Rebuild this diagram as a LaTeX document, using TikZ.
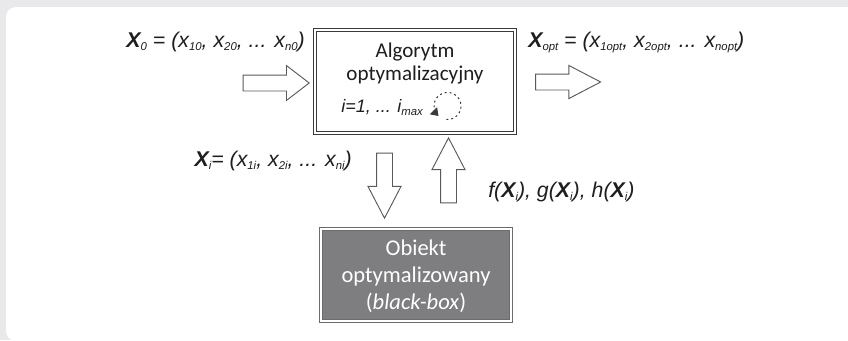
\documentclass[tikz,border=0pt]{standalone}
\usepackage{fontspec}
\setmainfont{Carlito}
\newfontfamily\lblfont{Liberation Sans}
\usetikzlibrary{positioning}
\usetikzlibrary{shapes.arrows}
\usetikzlibrary{arrows.meta}

\definecolor{panelgray}{HTML}{E9E9EB}
\definecolor{framegray}{HTML}{3A3A3A}
\definecolor{arrowgray}{HTML}{5A5A5A}
\definecolor{boxfill}{HTML}{7E7E80}
\definecolor{inkgray}{HTML}{1E1E1E}

% small, lowered index as in the figure
\newcommand{\idx}[1]{\raisebox{-0.35ex}{\fontsize{8.5}{9}\selectfont #1}}

\tikzset{
  algobox/.style={draw=framegray, double=white, double distance=1.5pt, line width=0.7pt,
    minimum width=150pt, minimum height=77.25pt, inner sep=0pt},
  objbox/.style={draw=boxfill!85!black, double=white, double distance=1.2pt, line width=0.75pt,
    fill=boxfill, minimum width=142.5pt, minimum height=69pt, inner sep=0pt},
  blockarrow/.style={single arrow, draw=arrowgray, fill=white, line width=0.7pt,
    inner xsep=0pt, inner ysep=5.625pt, single arrow head extend=6.4pt,
    single arrow tip angle=55, minimum height=48.75pt},
  mathlbl/.style={font=\lblfont\itshape\fontsize{16}{19}\selectfont, text=inkgray, inner sep=0pt},
  boxtext/.style={inner sep=0pt, text width=140pt, align=center},
}

\begin{document}
\begin{tikzpicture}[x=0.75pt, y=-0.75pt]
  \useasboundingbox (0,0) rectangle (848,340);
  % panel
  \fill[panelgray] (0,0) rectangle (848,340);
  \fill[white, rounded corners=7.5pt] (6,7) rectangle (870,341);

  % algorithm box
  \node[algobox] (algo) at (415,81.5) {};
  \node[boxtext, anchor=north, text=inkgray, font=\fontsize{15.8}{17.6}\selectfont]
    (algtitle) at ([yshift=-9.5pt]algo.north) {Algorytm\\optymalizacyjny};
  \node[mathlbl, font=\lblfont\itshape\fontsize{13.5}{16}\selectfont, anchor=base west] (iter) at (341,112)
    {i=1, ... i\idx{max}};
  \coordinate (loopc) at (447.5,106);
  \draw[framegray, line width=0.75pt, dash pattern=on 1.5pt off 2.2pt,
    -{Triangle[width=7.5pt,length=5.5pt]}]
    plot[domain=95:-228, samples=40] ([shift={({13.5*cos(\x)},{13.5*sin(\x)})}]loopc);

  % object box
  \node[objbox] (obj) at (416,275) {};
  \node[boxtext, anchor=north, text=white, font=\fontsize{16.9}{20.25}\selectfont]
    (objtitle) at ([yshift=-8pt]obj.north) {Obiekt\\optymalizowany\\(\textit{black-box})};

  % block arrows
  \node[blockarrow, single arrow head extend=7.1pt, single arrow tip angle=75,
    minimum height=49.5pt] (arrIn) at (271,83) {};
  \node[blockarrow] (arrOut) at (560.5,82) {};
  \node[blockarrow, rotate=-90] (arrDown) at (384.5,178) {};
  \node[blockarrow, rotate=90] (arrUp) at (448.5,178) {};

  % labels
  \node[mathlbl, anchor=base east] (xzero) at (305,47)
    {\textbf{X}\idx{0} = (x\idx{10}, x\idx{20}, ... x\idx{n0})};
  \node[mathlbl, anchor=base west] (xopt) at (528,47)
    {\textbf{X}\idx{opt} = (x\idx{1opt}, x\idx{2opt}, ... x\idx{nopt})};
  \node[mathlbl, anchor=base east] (xi) at (352,166)
    {\textbf{X}\idx{i}= (x\idx{1i}, x\idx{2i}, ... x\idx{ni})};
  \node[mathlbl, anchor=base west] (fx) at (488,197)
    {f(\textbf{X}\idx{i}), g(\textbf{X}\idx{i}), h(\textbf{X}\idx{i})};
\end{tikzpicture}
\end{document}
